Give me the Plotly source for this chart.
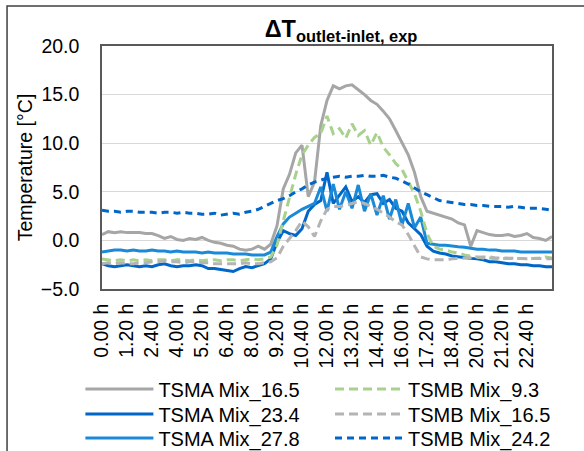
import plotly.graph_objects as go

# time axis: 20-minute steps over 24 h (hours)
hours = [round(i / 3, 4) for i in range(73)]

tick_hours = [i * 80 / 60 for i in range(18)]
tick_labels = ["0.00 h", "1.20 h", "2.40 h", "4.00 h", "5.20 h", "6.40 h",
               "8.00 h", "9.20 h", "10.40 h", "12.00 h", "13.20 h", "14.40 h",
               "16.00 h", "17.20 h", "18.40 h", "20.00 h", "21.20 h", "22.40 h"]

tsma_16_5 = [0.6, 0.9, 0.8, 0.9, 0.8, 0.8, 0.8, 0.7, 0.7, 0.5, 0.2, 0.4,
             0.1, 0.0, 0.2, 0.1, 0.3, 0.0, -0.2, -0.3, -0.5, -0.6, -0.9, -1.0,
             -0.9, -0.6, -0.9, -0.4, 1.5, 5.3, 6.8, 9.0, 9.8, 4.5, 6.0, 11.8,
             14.4, 15.9, 15.6, 15.9, 16.0, 15.5, 15.0, 14.4, 14.0, 13.3, 12.5, 11.3,
             10.0, 8.8, 7.0, 4.5, 3.0, 2.8, 2.6, 2.4, 2.2, 1.8, 1.6, -0.6,
             1.0, 0.8, 0.6, 0.5, 0.5, 0.6, 0.4, 0.5, 0.7, 0.3, 0.2, 0.0, 0.4]

tsma_23_4 = [-2.4, -2.6, -2.7, -2.6, -2.5, -2.6, -2.7, -2.6, -2.7, -2.5, -2.4, -2.6,
             -2.7, -2.6, -2.6, -2.5, -2.6, -2.9, -2.9, -3.0, -3.1, -3.2, -2.9, -2.7,
             -2.8, -2.6, -2.4, -1.9, -0.2, 1.0, 0.7, 0.5, 1.2, 3.0, 3.7, 4.1,
             7.0, 3.8, 4.6, 5.5, 4.0, 4.5, 3.9, 4.7, 4.8, 3.8, 4.2, 3.3,
             3.0, 1.8, 1.2, 0.6, -0.6, -1.1, -1.3, -1.4, -1.6, -1.7, -1.8, -1.85,
             -1.9, -2.0, -2.2, -2.2, -2.3, -2.4, -2.4, -2.5, -2.5, -2.6, -2.6, -2.7, -2.7]

tsma_27_8 = [-1.2, -1.1, -1.0, -1.0, -1.1, -1.0, -1.1, -1.1, -1.0, -1.1, -1.1, -1.2,
             -1.1, -1.2, -1.2, -1.2, -1.3, -1.2, -1.3, -1.3, -1.3, -1.4, -1.4, -1.4,
             -1.5, -1.5, -1.5, -1.2, 0.4, 1.7, 2.4, 2.8, 3.2, 3.5, 3.8, 5.5,
             3.0, 5.8, 3.2, 5.0, 3.3, 5.7, 3.0, 4.8, 2.6, 4.6, 2.2, 4.2,
             1.6, 3.8, 1.3, 2.4, -0.3, -0.4, -0.5, -0.5, -0.6, -0.65, -0.7, -0.8,
             -0.9, -0.9, -1.0, -1.0, -1.1, -1.1, -1.1, -1.2, -1.2, -1.2, -1.2, -1.2, -1.2]

tsmb_9_3 = [-1.9, -2.0, -2.1, -2.0, -2.1, -2.0, -2.1, -2.0, -2.1, -2.0, -2.0, -2.1,
            -2.0, -2.0, -2.1, -2.0, -2.1, -2.0, -2.0, -2.1, -2.0, -2.0, -2.1, -2.0,
            -1.9, -2.0, -1.9, -1.7, -0.5, 2.0, 4.5, 6.8, 8.8, 9.8, 10.6, 11.0,
            12.8, 11.0, 11.5, 10.5, 12.0, 10.8, 11.3, 9.8, 11.1, 9.6, 8.8, 7.9,
            7.3, 6.0, 4.8, 3.0, 0.7, -0.6, -0.9, -1.0, -1.2, -1.3, -1.5, -1.6,
            -1.7, -1.8, -1.8, -1.9, -1.85, -1.85, -1.85, -1.9, -1.85, -1.85, -1.8, -1.7, -1.8]

tsmb_16_5 = [-2.4, -2.3, -2.4, -2.3, -2.4, -2.4, -2.3, -2.3, -2.2, -2.2, -2.1, -2.2,
             -2.2, -2.3, -2.2, -2.2, -2.3, -2.3, -2.4, -2.4, -2.4, -2.4, -2.4, -2.3,
             -2.4, -2.4, -2.3, -2.2, -1.8, -0.6, 0.2, 1.0, 2.0, 1.4, 0.4, 2.0,
             3.2, 3.5, 3.5, 3.6, 3.8, 4.0, 3.8, 3.5, 3.2, 2.8, 2.4, 1.9,
             1.6, 0.6, -0.6, -1.7, -1.9, -2.0, -2.0, -2.0, -1.9, -1.85, -1.8, -1.8,
             -1.75, -1.7, -1.7, -1.8, -1.8, -1.85, -1.85, -1.85, -1.9, -1.85, -1.85, -1.85, -1.9]

tsmb_24_2 = [3.1, 3.0, 3.0, 2.9, 3.0, 3.0, 2.9, 2.9, 2.9, 2.8, 2.9, 2.9,
             2.8, 2.9, 2.8, 2.8, 2.7, 2.7, 2.8, 2.6, 2.7, 2.8, 2.7, 2.9,
             3.0, 3.2, 3.5, 3.8, 4.1, 4.3, 4.6, 5.0, 5.3, 5.7, 6.0, 6.2,
             6.4, 6.5, 6.6, 6.5, 6.6, 6.6, 6.7, 6.6, 6.6, 6.7, 6.5, 6.4,
             6.1, 5.8, 5.4, 5.0, 4.7, 4.4, 4.1, 4.0, 3.9, 3.8, 3.7, 3.7,
             3.6, 3.6, 3.5, 3.5, 3.5, 3.4, 3.5, 3.4, 3.3, 3.3, 3.3, 3.2, 3.1]

series = [
    ("TSMA Mix_16.5", tsma_16_5, "#A6A6A6", "solid"),
    ("TSMA Mix_23.4", tsma_23_4, "#0066C8", "solid"),
    ("TSMA Mix_27.8", tsma_27_8, "#1A8AD8", "solid"),
    ("TSMB Mix_9.3", tsmb_9_3, "#A9D18E", "9px,5px"),
    ("TSMB Mix_16.5", tsmb_16_5, "#B4B4B4", "9px,5px"),
    ("TSMB Mix_24.2", tsmb_24_2, "#0066C8", "7px,5px"),
]

FONT = "Liberation Sans, Arial, sans-serif"

# one legend box per entry: 2 columns x 3 rows (column-major like the source)
legend_ids = ["legend", "legend2", "legend3", "legend4", "legend5", "legend6"]
col_x = [-0.048, 0.5067]
row_y = [-0.4115, -0.5144, -0.6132]

fig = go.Figure()
for i, (name, vals, color, dash) in enumerate(series):
    fig.add_trace(go.Scatter(
        x=hours, y=vals, name=name, mode="lines",
        line=dict(color=color, width=3, dash=dash),
        legend=legend_ids[i], showlegend=True,
    ))

legend_layout = {}
for i, lid in enumerate(legend_ids):
    legend_layout[lid] = dict(
        x=col_x[i // 3], y=row_y[i % 3], xanchor="left", yanchor="middle",
        orientation="v", bgcolor="rgba(0,0,0,0)", itemwidth=68,
        font=dict(family=FONT, size=20, color="#000000"),
    )

fig.update_layout(
    width=584, height=451,
    showlegend=True,
    margin=dict(l=102, r=32, t=46, b=162, autoexpand=False),
    paper_bgcolor="white", plot_bgcolor="white",
    font=dict(family=FONT, size=19.5, color="#000000"),
    title=dict(
        text="<b>ΔT<sub>outlet-inlet, exp</sub></b>",
        font=dict(family=FONT, size=23.5, color="#000000"),
        x=0.584, xref="container", xanchor="center",
        y=0.937, yref="container", yanchor="middle",
    ),
    xaxis=dict(
        range=[0, 24], tickvals=tick_hours, ticktext=tick_labels,
        tickangle=-90, ticks="", showgrid=False, zeroline=False,
        showline=True, mirror=True, linecolor="#595959", linewidth=1.5,
        ticklabelstandoff=5, automargin=False,
        tickfont=dict(family=FONT, size=19.5, color="#000000"),
    ),
    yaxis=dict(
        range=[-5, 20], dtick=5, tickformat=".1f", ticks="",
        showgrid=True, gridcolor="#D9D9D9", gridwidth=1.2, zeroline=False,
        showline=True, mirror=True, linecolor="#595959", linewidth=1.5,
        ticklabelstandoff=17, automargin=False,
        tickfont=dict(family=FONT, size=19.5, color="#000000"),
        title=dict(text="Temperature [°C]", standoff=3,
                   font=dict(family=FONT, size=19.5, color="#000000")),
    ),
    shapes=[dict(
        type="rect", xref="paper", yref="paper",
        x0=-0.211, x1=1.3, y0=-0.7, y1=1.1646,
        line=dict(color="#404040", width=1.5), fillcolor="rgba(0,0,0,0)",
        layer="below",
    )],
    **legend_layout,
)

fig.write_html(
    "out.html",
    config={"displayModeBar": False},
    post_script="document.body.style.margin='0px';document.body.style.overflow='hidden';",
)
